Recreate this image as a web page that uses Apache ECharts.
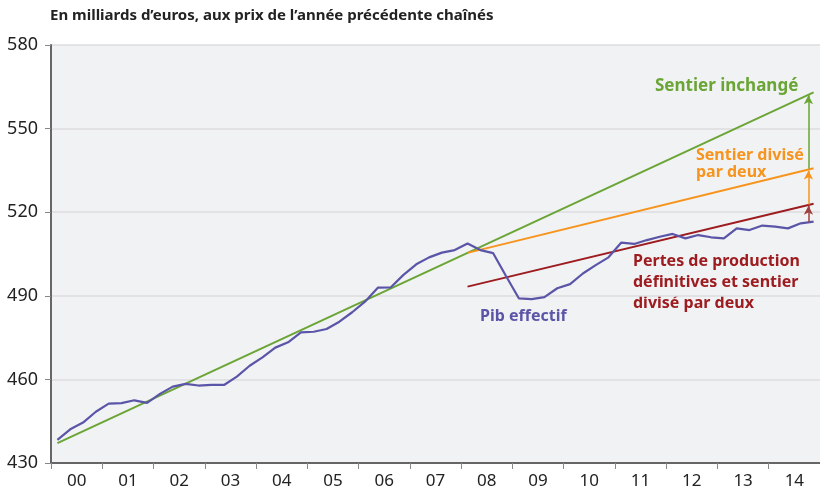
<!DOCTYPE html>
<html><head><meta charset="utf-8">
<script src="https://cdn.jsdelivr.net/npm/echarts@6/dist/echarts.min.js"></script>
<style>html,body{margin:0;padding:0;background:#fff}#c{width:820px;height:494px}</style>
</head><body><div id="c"></div>
<script>
var years = ["00","01","02","03","04","05","06","07","08","09","10","11","12","13","14"];
var yTicks = [430, 460, 490, 520, 550, 580];
// Quarterly GDP, 2000Q1 .. 2014Q4
var pibEffectif = [438.3,442.1,444.5,448.4,451.3,451.5,452.5,451.6,454.8,457.4,458.4,457.8,458.0,458.0,461.0,464.9,
  467.9,471.4,473.3,476.9,477.1,478.1,480.7,484.1,487.9,492.9,493.0,497.5,501.3,503.8,505.5,506.4,
  508.8,506.4,505.3,497.1,489.1,488.8,489.5,492.7,494.2,498.0,501.0,503.8,509.1,508.6,510.0,511.2,
  512.2,510.6,511.8,511.0,510.6,514.2,513.6,515.2,514.8,514.2,516.0,516.6];
// Trend lines: [quarter index, value]
var sentierInchange = [[0, 437.1], [59, 563.0]];
var sentierDivise = [[32, 505.4], [59, 535.8]];
var pertesDefinitives = [[32, 493.3], [59, 523.0]];
var arrowQuarter = 58.6;
var arrowGreen = [535.6, 562.0];
var arrowOrange = [522.8, 535.0];
var arrowRed = [516.4, 522.3];

function q(p){ return [p[0] + 0.5, p[1]]; }
var FONT = "Noto Sans";
var BLUE = "#5b55a8", GREEN = "#6aa535", ORANGE = "#f7941d", RED = "#9d1c20";

function arrow(vals, color){
  return {
    symbol: ['none', 'arrow'], symbolSize: [7, 9], silent: true,
    lineStyle: {color: color, width: 1.5, type: 'solid'},
    label: {show: false},
    data: [[{coord: [arrowQuarter + 0.5, vals[0]]}, {coord: [arrowQuarter + 0.5, vals[1]]}]]
  };
}

var chart = echarts.init(document.getElementById('c'));
chart.setOption({
  animation: false,
  textStyle: {fontFamily: FONT},
  grid: {left: 51, top: 45, width: 771, height: 418, show: true, backgroundColor: '#f1f2f4', borderWidth: 0},
  xAxis: [{
    type: 'category', data: years, boundaryGap: true,
    axisLine: {lineStyle: {color: '#666', width: 2}},
    axisTick: {show: true, interval: 0, length: 6, lineStyle: {color: '#888'}},
    axisLabel: {color: '#222', fontSize: 17, margin: 10, interval: 0, fontFamily: FONT},
    splitLine: {show: false}
  },{
    type: 'value', min: 0, max: 60, show: false
  }],
  yAxis: {
    type: 'value', min: yTicks[0], max: yTicks[yTicks.length-1], interval: 30,
    axisLine: {show: true, lineStyle: {color: '#666', width: 2}},
    axisTick: {show: true, length: 6, lineStyle: {color: '#888'}},
    axisLabel: {color: '#222', fontSize: 18, margin: 13, fontFamily: FONT},
    splitLine: {lineStyle: {color: '#dcdde1', width: 1.5}}
  },
  series: [
    {type: 'line', name: 'Sentier inchangé', xAxisIndex: 1, data: sentierInchange.map(q), symbol: 'none',
     lineStyle: {color: GREEN, width: 2}, markLine: arrow(arrowGreen, GREEN)},
    {type: 'line', name: 'Sentier divisé par deux', xAxisIndex: 1, data: sentierDivise.map(q), symbol: 'none',
     lineStyle: {color: ORANGE, width: 2}, markLine: arrow(arrowOrange, ORANGE)},
    {type: 'line', name: 'Pertes', xAxisIndex: 1, data: pertesDefinitives.map(q), symbol: 'none',
     lineStyle: {color: RED, width: 2}, markLine: arrow(arrowRed, '#a0403f')},
    {type: 'line', name: 'Pib effectif', xAxisIndex: 1, data: pibEffectif.map(function(v,i){return [i+0.5, v];}),
     symbol: 'none', lineStyle: {color: BLUE, width: 2.2}}
  ],
  graphic: [
    {type: 'text', left: 50, top: 8, style: {text: "En milliards d\u2019euros, aux prix de l\u2019ann\u00e9e pr\u00e9c\u00e9dente cha\u00een\u00e9s", fill: '#222', font: 'bold 15px "' + FONT + '"'}},
    {type: 'text', left: 655, top: 78, style: {text: "Sentier inchang\u00e9", fill: GREEN, font: 'bold 17px "' + FONT + '"'}},
    {type: 'text', left: 696, top: 147, style: {text: "Sentier divis\u00e9\npar deux", fill: ORANGE, font: 'bold 16px "' + FONT + '"', lineHeight: 17}},
    {type: 'text', left: 633, top: 251, style: {text: "Pertes de production\nd\u00e9finitives et sentier\ndivis\u00e9 par deux", fill: RED, font: 'bold 16px "' + FONT + '"', lineHeight: 21}},
    {type: 'text', left: 480, top: 308, style: {text: "Pib effectif", fill: BLUE, font: 'bold 16px "' + FONT + '"'}}
  ]
});
</script></body></html>
